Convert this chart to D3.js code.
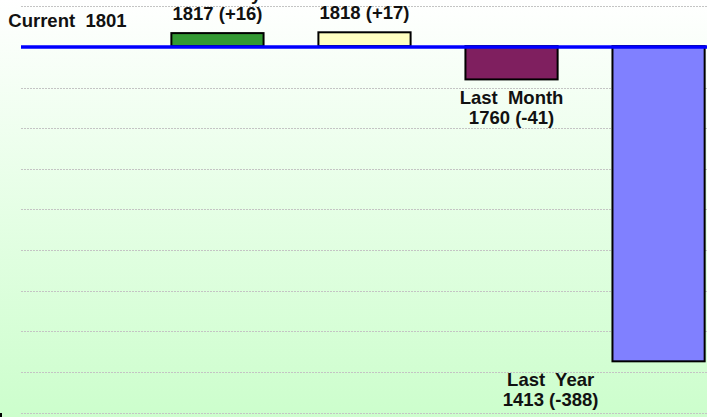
<!DOCTYPE html>
<html>
<head>
<meta charset="utf-8">
<script src="https://cdn.jsdelivr.net/npm/d3@7"></script>
<style>
  body { margin: 0; }
  svg { display: block; }
  text { font-family: "Liberation Sans", Arial, sans-serif; font-weight: bold; font-size: 18.5px; fill: #111; white-space: pre; }
</style>
</head>
<body>
<svg id="chart" width="707" height="417"></svg>
<script>
// data
const categories = ["Current", "Yesterday", "Last  Week", "Last  Month", "Last  Year"];
const values = [1801, 1817, 1818, 1760, 1413];
const barColors = ["none", "#339933", "#ffffc0", "#7f1f5f", "#8080ff"];
const gridTicks = [1350, 1400, 1450, 1500, 1550, 1600, 1650, 1700, 1750, 1800, 1850];

const width = 707, height = 417;
const current = values[0];

const svg = d3.select("#chart");

const defs = svg.append("defs");
const grad = defs.append("linearGradient").attr("id", "bg").attr("x1", 0).attr("y1", 0).attr("x2", 0).attr("y2", 1);
grad.append("stop").attr("offset", "0%").attr("stop-color", "#ffffff");
grad.append("stop").attr("offset", "100%").attr("stop-color", "#ccfecc");

svg.append("rect").attr("width", width).attr("height", height).attr("fill", "url(#bg)");

const x = d3.scaleBand().domain(categories).range([-3, 732]).paddingInner(0.373).paddingOuter(0.186);
const y = d3.scaleLinear().domain([1350, 1850]).range([412.5, 6.3]);

// gridlines
svg.append("g")
  .selectAll("line")
  .data(gridTicks)
  .join("line")
  .attr("x1", 21)
  .attr("x2", width)
  .attr("y1", d => Math.round(y(d)) + 0.5)
  .attr("y2", d => Math.round(y(d)) + 0.5)
  .attr("stroke", "#c4c4c4")
  .attr("stroke-dasharray", "2,1");

const data = categories.map((c, i) => ({ category: c, value: values[i], color: barColors[i] }));

// bars (skip the current one, it's just the baseline)
svg.append("g")
  .selectAll("rect")
  .data(data.slice(1))
  .join("rect")
  .attr("x", d => x(d.category))
  .attr("width", x.bandwidth())
  .attr("y", d => Math.min(y(d.value), y(current)))
  .attr("height", d => Math.abs(y(d.value) - y(current)))
  .attr("fill", d => d.color)
  .attr("stroke", "#000")
  .attr("stroke-width", 2);

// baseline for current value
svg.append("line")
  .attr("x1", 21)
  .attr("x2", width)
  .attr("y1", y(current) + 1)
  .attr("y2", y(current) + 1)
  .attr("stroke", "#0000ff")
  .attr("stroke-width", 3.5);

// labels
const lineH = 19.7;
const labels = svg.append("g").attr("text-anchor", "middle");

labels.append("text")
  .attr("x", x(categories[0]) + x.bandwidth() / 2 - 3)
  .attr("y", y(current) - 19.5)
  .text(`${categories[0]}  ${current}`);

data.slice(1).forEach(d => {
  const diff = d.value - current;
  let cx = x(d.category) + x.bandwidth() / 2;
  const second = `${d.value} (${diff > 0 ? "+" : ""}${diff})`;
  let y0;
  if (diff > 0) y0 = y(d.value) - 13.5 - lineH;
  else y0 = y(d.value) + 24.5;
  const t = labels.append("text").attr("y", y0);
  const l1 = t.append("tspan").text(d.category);
  const l2 = t.append("tspan").attr("dy", lineH).text(second);
  // label would run off the right edge -> put it left of the bar
  const w = Math.max(l1.node().getComputedTextLength(), l2.node().getComputedTextLength(), 90);
  if (cx + w / 2 > width - 10) cx = x(d.category) - 14 - w / 2;
  l1.attr("x", cx);
  l2.attr("x", cx);
});

// little axis stub in the corner
svg.append("rect").attr("x", 0).attr("y", 413).attr("width", 2).attr("height", 4).attr("fill", "#000");
</script>
</body>
</html>
